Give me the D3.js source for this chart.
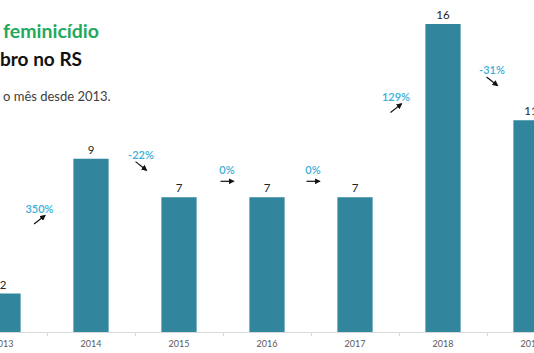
<!DOCTYPE html>
<html><head><meta charset="utf-8">
<script src="https://cdn.jsdelivr.net/npm/d3@7"></script>
<style>body{margin:0;background:#fff;overflow:hidden}svg{display:block}</style>
</head><body>
<svg id="c" width="534" height="353"></svg>
<script>
const years = ["2013","2014","2015","2016","2017","2018","2019"];
const cases = [2, 9, 7, 7, 7, 16, 11];
// annotation placement (value-level for y, pixel nudge for x), one per change
const changeLevels = [6.4, 9.2, 8.4, 8.4, 12.2, 13.6];
const changeNudge = [-7.5, 6, 4, 2, -3, 5];
const titleLine1 = "feminicídio";
const titleLine2 = "bro no RS";
const subtitle = "o mês desde 2013.";

const svg = d3.select("#c");
const W = 534, H = 353;
const font = "Lato, 'Open Sans', sans-serif";

const x = d3.scaleBand().domain(years).range([-41, 575]).paddingInner(0.6).paddingOuter(0.3);
const y = d3.scaleLinear().domain([0, 16]).range([332, 24]);
const step = x.step();
const center = d => x(d) + x.bandwidth() / 2;

// titles
svg.append("text").attr("x", 3).attr("y", 38)
  .attr("font-family", font).attr("font-weight", 700).attr("font-size", 19.5)
  .attr("fill", "#23A95B").text(titleLine1);
svg.append("text").attr("x", 0).attr("y", 66)
  .attr("font-family", font).attr("font-weight", 700).attr("font-size", 19)
  .attr("fill", "#111").text(titleLine2);
svg.append("text").attr("x", 3).attr("y", 101)
  .attr("font-family", font).attr("font-size", 13)
  .attr("fill", "#404040").text(subtitle);

// bars
svg.selectAll("rect.bar").data(years).join("rect").attr("class", "bar")
  .attr("x", d => x(d)).attr("width", x.bandwidth())
  .attr("y", (d, i) => y(cases[i])).attr("height", (d, i) => y(0) - y(cases[i]))
  .attr("fill", "#31859C");

// value labels
svg.selectAll("text.val").data(years).join("text").attr("class", "val")
  .attr("x", d => center(d)).attr("y", (d, i) => y(cases[i]) - 5)
  .attr("text-anchor", "middle").attr("font-family", font).attr("font-size", 11.5)
  .attr("fill", "#262626").text((d, i) => cases[i]);

// x axis
const axis = d3.axisBottom(x).tickSize(0).tickPadding(9);
const gx = svg.append("g").attr("transform", `translate(0,${y(0)})`).call(axis);
gx.select(".domain").remove();
gx.selectAll("text").attr("font-family", font).attr("font-size", 9).attr("fill", "#595959");
svg.append("line").attr("x1", 0).attr("x2", W).attr("y1", y(0) + 0.5).attr("y2", y(0) + 0.5)
  .attr("stroke", "#d9d9d9");
svg.selectAll("line.bt").data(years).join("line").attr("class", "bt")
  .attr("x1", d => Math.round(center(d) + step / 2) + 0.5).attr("x2", d => Math.round(center(d) + step / 2) + 0.5)
  .attr("y1", y(0)).attr("y2", y(0) + 4).attr("stroke", "#d9d9d9");

// change annotations
svg.append("defs").append("marker").attr("id", "ah").attr("viewBox", "0 0 10 10")
  .attr("refX", 8).attr("refY", 5).attr("markerWidth", 5).attr("markerHeight", 5)
  .attr("orient", "auto").append("path").attr("d", "M0,0L10,5L0,10z").attr("fill", "#111");

const changes = cases.slice(1).map((v, i) => ({
  from: years[i], pct: Math.round((v - cases[i]) / cases[i] * 100)
}));
changes.forEach((c, i) => {
  const cx = center(c.from) + step / 2 + changeNudge[i];
  const cy = y(changeLevels[i]);
  svg.append("text").attr("x", cx).attr("y", cy + 4).attr("text-anchor", "middle")
    .attr("font-family", font).attr("font-size", 11).attr("font-weight", 600)
    .attr("fill", "#3AAFD6").text(c.pct + "%");
  const ay = cy + 11, len = 13;
  const dir = Math.sign(c.pct); // +1 up, -1 down, 0 flat
  const dx = dir === 0 ? len / 2 : len * 0.42, dy = dir === 0 ? 0 : -dir * len * 0.33;
  svg.append("line").attr("x1", cx - dx).attr("y1", ay - dy).attr("x2", cx + dx).attr("y2", ay + dy)
    .attr("stroke", "#111").attr("stroke-width", 1.2).attr("marker-end", "url(#ah)");
});
</script>
</body></html>
